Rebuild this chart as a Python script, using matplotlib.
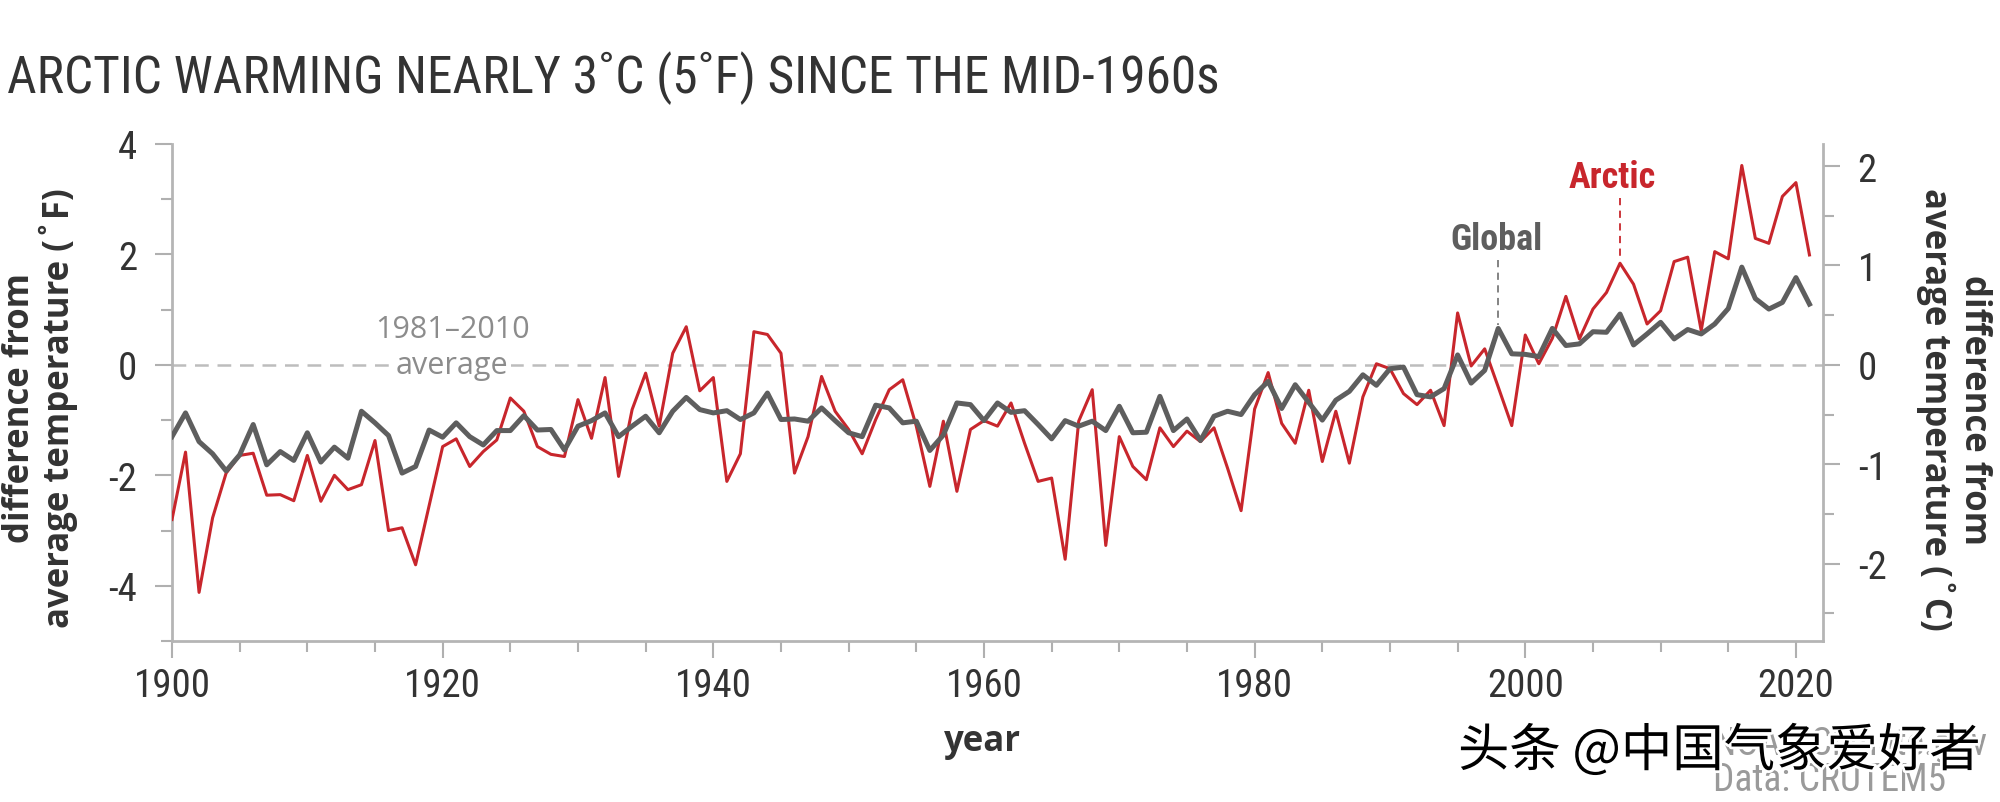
import os
import matplotlib
matplotlib.use("Agg")
import matplotlib.pyplot as plt
import matplotlib.patheffects as pe
from matplotlib import font_manager as fm

plt.rcParams['axes.unicode_minus'] = False

# anomalies vs 1981-2010, degrees F
years = list(range(1900, 2022))
arctic = [
    -2.80, -1.58, -4.12, -2.77, -1.96, -1.64, -1.60, -2.36, -2.35, -2.46,
    -1.64, -2.47, -2.00, -2.26, -2.17, -1.37, -3.00, -2.95, -3.62, -2.55,
    -1.48, -1.34, -1.84, -1.57, -1.36, -0.60, -0.84, -1.48, -1.62, -1.66,
    -0.63, -1.33, -0.23, -2.02, -0.81, -0.15, -1.11, 0.21, 0.69, -0.47,
    -0.23, -2.11, -1.61, 0.60, 0.55, 0.21, -1.96, -1.30, -0.21, -0.84,
    -1.17, -1.61, -0.99, -0.45, -0.27, -1.11, -2.20, -1.02, -2.29, -1.17,
    -1.01, -1.11, -0.69, -1.42, -2.11, -2.05, -3.52, -1.02, -0.45, -3.27,
    -1.30, -1.84, -2.08, -1.14, -1.48, -1.20, -1.39, -1.14, -1.87, -2.64,
    -0.80, -0.14, -1.06, -1.42, -0.46, -1.75, -0.84, -1.78, -0.58, 0.02,
    -0.07, -0.52, -0.72, -0.46, -1.10, 0.94, -0.02, 0.29, -0.40, -1.10,
    0.54, 0.02, 0.48, 1.24, 0.47, 1.01, 1.31, 1.84, 1.46, 0.74,
    0.98, 1.87, 1.95, 0.62, 2.05, 1.92, 3.61, 2.29, 2.20, 3.05,
    3.30, 1.99,
]
glob = [
    -1.30, -0.87, -1.39, -1.61, -1.92, -1.63, -1.08, -1.81, -1.57, -1.73,
    -1.23, -1.76, -1.49, -1.69, -0.84, -1.05, -1.28, -1.96, -1.84, -1.18,
    -1.31, -1.05, -1.30, -1.45, -1.19, -1.19, -0.92, -1.18, -1.17, -1.54,
    -1.11, -1.01, -0.87, -1.30, -1.11, -0.93, -1.23, -0.84, -0.59, -0.81,
    -0.87, -0.83, -0.99, -0.87, -0.51, -0.99, -0.98, -1.02, -0.78, -1.01,
    -1.23, -1.30, -0.73, -0.78, -1.05, -1.02, -1.55, -1.27, -0.69, -0.72,
    -1.01, -0.69, -0.86, -0.83, -1.08, -1.34, -1.01, -1.11, -1.02, -1.19,
    -0.75, -1.23, -1.22, -0.57, -1.19, -0.98, -1.37, -0.93, -0.84, -0.90,
    -0.54, -0.30, -0.79, -0.36, -0.68, -1.00, -0.64, -0.48, -0.18, -0.37,
    -0.07, -0.04, -0.54, -0.58, -0.43, 0.18, -0.33, -0.10, 0.66, 0.20,
    0.19, 0.15, 0.66, 0.35, 0.38, 0.60, 0.59, 0.92, 0.36, 0.56,
    0.77, 0.47, 0.64, 0.56, 0.74, 1.02, 1.77, 1.20, 1.01, 1.13,
    1.58, 1.10,
]
xticks = [1900, 1920, 1940, 1960, 1980, 2000, 2020]
f_ticks = [-4, -2, 0, 2, 4]
c_ticks = [-2, -1, 0, 1, 2]

red = '#c8262c'
gray = '#5e5e5e'
human = ['Open Sans', 'DejaVu Sans']


def pick_font(names, size, fallback='DejaVu Sans', weight='normal'):
    # look for a narrow face among the installed files
    files = {os.path.basename(f.fname): f.fname for f in fm.fontManager.ttflist}
    for n in names:
        if n in files:
            return fm.FontProperties(fname=files[n], size=size)
    return fm.FontProperties(family=fallback, weight=weight, stretch='condensed', size=size)


narrow_reg = ['LiberationSansNarrow-Regular.ttf', 'NotoSans-Condensed.ttf',
              'NotoSans-SemiCondensed.ttf', 'RobotoCondensed-Regular.ttf',
              'DejaVuSansCondensed.ttf']
narrow_bold = ['LiberationSansNarrow-Bold.ttf', 'NotoSans-CondensedBold.ttf',
               'NotoSans-SemiCondensedBold.ttf', 'RobotoCondensed-Bold.ttf',
               'DejaVuSansCondensed-Bold.ttf']
xnarrow = ['NotoSans-ExtraCondensed.ttf', 'LiberationSansNarrow-Regular.ttf',
           'NotoSans-Condensed.ttf', 'RobotoCondensed-Regular.ttf',
           'DejaVuSansCondensed.ttf']

fig = plt.figure(figsize=(20, 8.03), dpi=100)
ax = fig.add_axes([0.086, 0.2005, 0.8255, 0.619])

ax.axhline(0, color='#bdbdbd', lw=1.8, ls=(0, (5.5, 3.5)), zorder=1)
ax.plot(years, arctic, color=red, lw=2.2, zorder=3)
ax.plot(years, glob, color=gray, lw=3.6, zorder=4)

ax.set_xlim(1900, 2022)
ax.set_ylim(-5, 4)
ax.set_xticks(xticks)
ax.set_xticks(range(1900, 2022, 5), minor=True)
ax.set_yticks(f_ticks)
ax.set_yticklabels([str(t) for t in f_ticks])
ax.set_yticks([-5, -3, -1, 1, 3], minor=True)

ax2 = ax.twinx()
ax2.set_ylim(-5 / 1.8, 4 / 1.8)
ax2.set_yticks(c_ticks)
ax2.set_yticklabels([str(t) for t in c_ticks])
ax2.set_yticks([-2.5, -1.5, -0.5, 0.5, 1.5], minor=True)

for a in (ax, ax2):
    for s in a.spines.values():
        s.set_color('#b5b5b5')
        s.set_linewidth(2)
    a.spines['top'].set_visible(False)
ax.spines['right'].set_visible(False)
ax2.spines['left'].set_visible(False)
ax2.spines['bottom'].set_visible(False)

ax.tick_params(axis='x', which='major', length=12, width=1.5, color='#b0b0b0', pad=7)
ax.tick_params(axis='x', which='minor', length=8, width=1.5, color='#b0b0b0')
ax.tick_params(axis='y', which='major', length=12, width=1.5, color='#b0b0b0', pad=13)
ax.tick_params(axis='y', which='minor', length=8, width=1.5, color='#b0b0b0')
ax2.tick_params(axis='y', which='major', length=12, width=1.5, color='#b0b0b0', pad=13)
ax2.tick_params(axis='y', which='minor', length=8, width=1.5, color='#b0b0b0')
tick_fp = pick_font(narrow_reg, 28)
for lab in ax.get_xticklabels() + ax.get_yticklabels() + ax2.get_yticklabels():
    lab.set_fontproperties(tick_fp)
    lab.set_color('#333333')

# annotations
ax.text(1920.7, 0.51, "1981–2010", ha='center', va='baseline', fontsize=22,
        color='#8c8c8c', family=human, zorder=5)
ax.text(1920.7, -0.15, "average", ha='center', va='baseline', fontsize=22,
        color='#8c8c8c', family=human, zorder=5,
        bbox=dict(facecolor='white', edgecolor='none', pad=2))
ax.text(1997.9, 2.10, "Global", ha='center', va='baseline', color=gray,
        fontproperties=pick_font(narrow_bold, 26, weight='bold'))
ax.text(2006.4, 3.22, "Arctic", ha='center', va='baseline', color=red,
        fontproperties=pick_font(narrow_bold, 26, weight='bold'))
ax.plot([1998, 1998], [1.89, 0.72], color='#7a7a7a', lw=1.3, ls=(0, (4, 3)), zorder=2)
ax.plot([2007, 2007], [3.03, 1.90], color=red, lw=1.3, ls=(0, (4, 3)), zorder=2)

fig.text(0.0035, 0.884, "ARCTIC WARMING NEARLY 3˚C (5˚F) SINCE THE MID-1960s",
         fontproperties=pick_font(xnarrow, 37), color='#333333', va='baseline')
fig.text(0.02, 0.492, "difference from\naverage temperature (˚F)", rotation=90,
         ha='center', va='center', fontsize=25, fontweight='bold', family=human,
         color='#333333', linespacing=1.0, multialignment='center')
fig.text(0.977, 0.49, "difference from\naverage temperature (˚C)", rotation=-90,
         ha='center', va='center', fontsize=25, fontweight='bold', family=human,
         color='#333333', linespacing=1.0, multialignment='center')
fig.text(0.491, 0.076, "year", ha='center', va='center', fontsize=25,
         fontweight='bold', family=human, color='#333333')

credit_fp = pick_font(narrow_reg, 27)
fig.text(0.8565, 0.06, "NOAA Climate.gov", fontproperties=credit_fp, color='#9a9a9a')
fig.text(0.8565, 0.015, "Data: CRUTEM5", fontproperties=credit_fp, color='#9a9a9a')
fig.text(0.729, 0.063, "头条 @中国气象爱好者", ha='left', va='center', fontsize=37,
         family=['Noto Sans CJK SC', 'DejaVu Sans'], color='black',
         path_effects=[pe.withStroke(linewidth=4, foreground='white')], zorder=10)

fig.savefig('out.png', dpi=100)
